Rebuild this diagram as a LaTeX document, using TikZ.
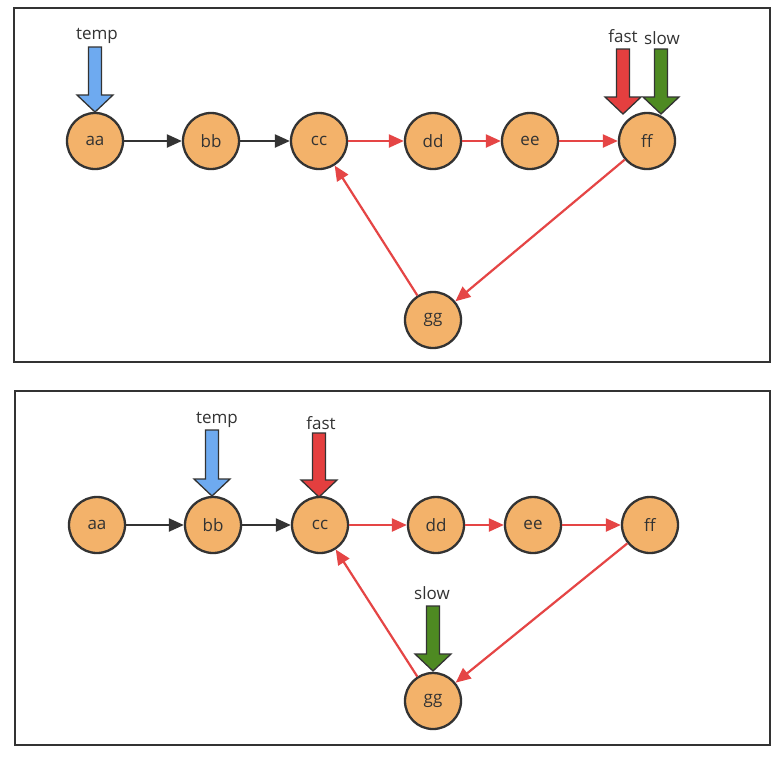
\documentclass[tikz,border=0pt]{standalone}
\usepackage{fontspec}
\setmainfont{Open Sans}
\usetikzlibrary{arrows.meta}
\definecolor{nodefill}{HTML}{F3B26A}
\definecolor{ink}{HTML}{333333}
\definecolor{redline}{HTML}{E54545}
\definecolor{bluefat}{HTML}{6EAAF0}
\definecolor{redfat}{HTML}{E43F3F}
\definecolor{greenfat}{HTML}{4E8A22}
\newcommand\fatarrow[4]{%
  \filldraw[fill=#1, draw=ink, line width=1.3pt, line join=miter]
    ({#2-6.5},#3) -- ({#2+6.5},#3) -- ({#2+6.5},{#4-17}) -- ({#2+18},{#4-17}) --
    (#2,#4) -- ({#2-18},{#4-17}) -- ({#2-6.5},{#4-17}) -- cycle;}
\begin{document}
\begin{tikzpicture}[x=1pt,y=-1pt,
  vertex/.style={circle, draw=ink, line width=2.3pt, fill=nodefill, minimum size=56pt,
    inner sep=0pt, text=ink, font=\fontsize{17}{19}\selectfont},
  blk/.style={draw=ink, line width=2.2pt, -{Triangle[length=15pt,width=13pt]}},
  rd/.style={draw=redline, line width=2.2pt, -{Triangle[length=15pt,width=13pt]}},
  lbl/.style={text=ink, font=\fontsize{17}{19}\selectfont, inner sep=0pt},
  frame/.style={draw=ink, line width=2.4pt}]
\useasboundingbox (0,0) rectangle (783,758);
\fill[white] (0,0) rectangle (783,758);
% frames
\draw[frame] (14,8) rectangle (770,362);
\draw[frame] (15,391) rectangle (770,745);
% ---------- top ----------
\node[vertex] (a1) at (95,141) {aa};
\node[vertex] (b1) at (211,141) {bb};
\node[vertex] (c1) at (319,141) {cc};
\node[vertex] (d1) at (433,141) {dd};
\node[vertex] (e1) at (530,141) {ee};
\node[vertex] (f1) at (647,141) {ff};
\node[vertex] (g1) at (433,320) {gg};
\draw[blk] (a1) -- (b1);
\draw[blk] (b1) -- (c1);
\draw[rd] (c1) -- (d1);
\draw[rd] (d1) -- (e1);
\draw[rd] (e1) -- (f1);
\draw[rd] (f1) -- (g1);
\draw[rd] (g1) -- (c1);
\fatarrow{bluefat}{95}{47}{112}
\fatarrow{redfat}{623}{49}{114}
\fatarrow{greenfat}{661}{49}{114}
\node[lbl] (t1) at (97,36) {temp};
\node[lbl] (fa1) at (623,36) {fast};
\node[lbl] (s1) at (662,38) {slow};
% ---------- bottom ----------
\node[vertex] (a2) at (97,525) {aa};
\node[vertex] (b2) at (213,525) {bb};
\node[vertex] (c2) at (320,525) {cc};
\node[vertex] (d2) at (436,525) {dd};
\node[vertex] (e2) at (533,525) {ee};
\node[vertex] (f2) at (650,525) {ff};
\node[vertex] (g2) at (433,701) {gg};
\draw[blk] (a2) -- (b2);
\draw[blk] (b2) -- (c2);
\draw[rd] (c2) -- (d2);
\draw[rd] (d2) -- (e2);
\draw[rd] (e2) -- (f2);
\draw[rd] (f2) -- (g2);
\draw[rd] (g2) -- (c2);
\fatarrow{bluefat}{212}{430}{496}
\fatarrow{redfat}{319}{433}{497}
\fatarrow{greenfat}{433}{606}{671}
\node[lbl] (t2) at (217,420) {temp};
\node[lbl] (fa2) at (321,423) {fast};
\node[lbl] (s2) at (432,593) {slow};
\end{tikzpicture}
\end{document}
